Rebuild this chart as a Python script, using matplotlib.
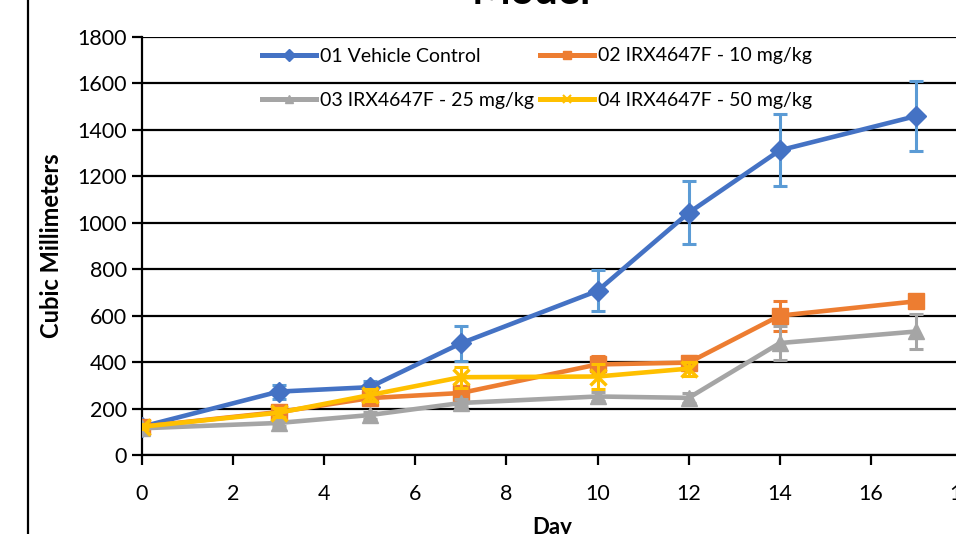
import matplotlib

matplotlib.use("Agg")
import matplotlib.pyplot as plt
from matplotlib.lines import Line2D

plt.rcParams["font.family"] = ["Lato", "DejaVu Sans"]

days = [0, 3, 5, 7, 10, 12, 14, 17]
days_50 = [0, 3, 5, 7, 10, 12]

vehicle = [122, 273, 292, 481, 707, 1043, 1312, 1460]
vehicle_err = [10, 30, 25, 75, 88, 135, 155, 152]
dose10 = [122, 185, 245, 267, 390, 398, 600, 662]
dose10_err = [10, 20, 20, 25, 35, 30, 65, 25]
dose25 = [115, 138, 172, 224, 252, 246, 482, 532]
dose25_err = [8, 15, 15, 15, 20, 20, 75, 75]
dose50 = [122, 182, 258, 335, 338, 372]
dose50_err = [10, 20, 25, 45, 55, 30]

labels = ["01 Vehicle Control", "02 IRX4647F - 10 mg/kg",
          "03 IRX4647F - 25 mg/kg", "04 IRX4647F - 50 mg/kg"]

fig = plt.figure(figsize=(9.56, 5.34), dpi=100)
ax = fig.add_axes([142 / 956, 1 - 455 / 534, 820 / 956, 418 / 534])

series = [
    (days, vehicle, vehicle_err, "#4472C4", "#5B9BD5", "D", 10),
    (days, dose10, dose10_err, "#ED7D31", "#ED7D31", "s", 11),
    (days, dose25, dose25_err, "#A5A5A5", "#A5A5A5", "^", 11),
    (days_50, dose50, dose50_err, "#FFC000", "#FFC000", "x", 11),
]
handles = []
for i, (x, y, e, col, ecol, mk, ms) in enumerate(series):
    ax.errorbar(x, y, yerr=e, fmt="none", ecolor=ecol, elinewidth=2.2,
                capsize=5, capthick=2.2, zorder=3 + i)
    ax.plot(x, y, color=col, lw=3.3, marker=mk, ms=ms,
            mew=2.5 if mk == "x" else 1, mec=col, zorder=3 + i)
    handles.append(Line2D([], [], color=col, lw=3.6, marker=mk,
                          ms=6, mew=1.5 if mk == "x" else 1, mec=col))

ax.set_xlim(0, 18)
ax.set_ylim(0, 1800)
ax.set_xticks(range(0, 19, 2))
ax.set_yticks(range(0, 1801, 200))
ax.grid(axis="y", color="black", lw=1.6)
ax.set_axisbelow(True)
for s in ["top", "right"]:
    ax.spines[s].set_visible(False)
for s in ["left", "bottom"]:
    ax.spines[s].set_linewidth(1.6)
ax.tick_params(axis="both", direction="out", length=7, width=1.6,
               labelsize=15.5, pad=4)
ax.tick_params(axis="x", pad=14)

ax.set_ylabel("Cubic Millimeters", fontsize=17, fontweight="bold", labelpad=10)
ax.set_xlabel("Day", fontsize=16, fontweight="bold", labelpad=9)

fig.text(531 / 956, 1 - 4 / 534, "Model", fontsize=30, fontweight="bold",
         ha="center", va="baseline")
fig.add_artist(Line2D([28 / 956, 28 / 956], [0, 1], color="black", lw=1.6))

# row-wise order: 01 02 / 03 04
order = [0, 2, 1, 3]
fig.legend([handles[k] for k in order], [labels[k] for k in order],
           loc="upper left", bbox_to_anchor=(244 / 956, 1 - 30 / 534),
           ncol=2, frameon=False, fontsize=14, handlelength=2.8,
           labelspacing=1.4, columnspacing=0.3, handletextpad=0.2)

fig.savefig("out.png", dpi=100)
